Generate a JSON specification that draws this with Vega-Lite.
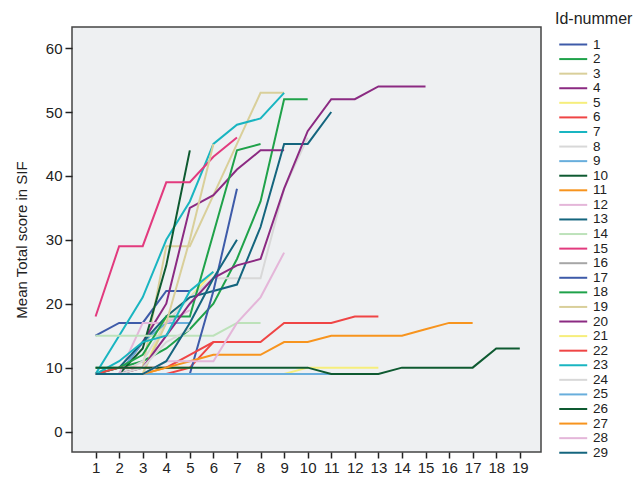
{
"$schema": "https://vega.github.io/schema/vega-lite/v6.json",
"width": 469, "height": 425,
"autosize": "none",
"padding": {"left": 72, "top": 27, "right": 97, "bottom": 32},
"background": "white",
"config": {
  "font": "Liberation Sans",
  "view": {"fill": "#EEF0F2", "stroke": "#444444", "strokeWidth": 1.5},
  "axis": {"grid": false, "domain": false, "tickColor": "#222222", "tickWidth": 1.5, "tickSize": 7, "labelColor": "#222222", "titleColor": "#222222", "labelFontSize": 15, "titleFontSize": 15, "titleFontWeight": "normal"}
},
"data": {"values": [
{"id":1,"t":1,"v":15},{"id":1,"t":2,"v":17},{"id":1,"t":3,"v":17},{"id":1,"t":4,"v":22},{"id":1,"t":5,"v":22},
{"id":2,"t":1,"v":10},{"id":2,"t":2,"v":10},{"id":2,"t":3,"v":11},{"id":2,"t":4,"v":13},{"id":2,"t":5,"v":16},{"id":2,"t":6,"v":20},{"id":2,"t":7,"v":27},{"id":2,"t":8,"v":36},{"id":2,"t":9,"v":52},{"id":2,"t":10,"v":52},
{"id":3,"t":1,"v":9},{"id":3,"t":2,"v":9},{"id":3,"t":3,"v":10},{"id":3,"t":4,"v":29},{"id":3,"t":5,"v":29},{"id":3,"t":6,"v":37},{"id":3,"t":7,"v":45},{"id":3,"t":8,"v":53},{"id":3,"t":9,"v":53},
{"id":4,"t":1,"v":9},{"id":4,"t":2,"v":9},{"id":4,"t":3,"v":14},{"id":4,"t":4,"v":20},{"id":4,"t":5,"v":35},{"id":4,"t":6,"v":37},{"id":4,"t":7,"v":41},{"id":4,"t":8,"v":44},{"id":4,"t":9,"v":44},
{"id":5,"t":1,"v":9},{"id":5,"t":2,"v":9},{"id":5,"t":3,"v":9},{"id":5,"t":4,"v":18},{"id":5,"t":5,"v":21},{"id":5,"t":6,"v":25},
{"id":6,"t":1,"v":9},{"id":6,"t":2,"v":9},{"id":6,"t":3,"v":9},{"id":6,"t":4,"v":9},{"id":6,"t":5,"v":10},{"id":6,"t":6,"v":14},
{"id":7,"t":1,"v":9},{"id":7,"t":2,"v":15},{"id":7,"t":3,"v":21},{"id":7,"t":4,"v":30},{"id":7,"t":5,"v":36},{"id":7,"t":6,"v":45},{"id":7,"t":7,"v":48},{"id":7,"t":8,"v":49},{"id":7,"t":9,"v":53},
{"id":8,"t":1,"v":9},{"id":8,"t":2,"v":9},{"id":8,"t":3,"v":11},{"id":8,"t":4,"v":17},{"id":8,"t":5,"v":21},{"id":8,"t":6,"v":24},{"id":8,"t":7,"v":24},{"id":8,"t":8,"v":24},{"id":8,"t":9,"v":38},{"id":8,"t":10,"v":46},
{"id":9,"t":1,"v":9},{"id":9,"t":2,"v":9},{"id":9,"t":3,"v":14},{"id":9,"t":4,"v":17},{"id":9,"t":5,"v":17},
{"id":10,"t":1,"v":9},{"id":10,"t":2,"v":9},{"id":10,"t":3,"v":13},{"id":10,"t":4,"v":26},{"id":10,"t":5,"v":44},
{"id":11,"t":1,"v":9},{"id":11,"t":2,"v":9},{"id":11,"t":3,"v":9},{"id":11,"t":4,"v":10},{"id":11,"t":5,"v":10},
{"id":12,"t":1,"v":9},{"id":12,"t":2,"v":9},{"id":12,"t":3,"v":17},{"id":12,"t":4,"v":17},{"id":12,"t":5,"v":19},
{"id":13,"t":1,"v":9},{"id":13,"t":2,"v":10},{"id":13,"t":3,"v":14},{"id":13,"t":4,"v":18},{"id":13,"t":5,"v":21},{"id":13,"t":6,"v":22},{"id":13,"t":7,"v":23},{"id":13,"t":8,"v":32},{"id":13,"t":9,"v":45},{"id":13,"t":10,"v":45},{"id":13,"t":11,"v":50},
{"id":14,"t":1,"v":15},{"id":14,"t":2,"v":15},{"id":14,"t":3,"v":15},{"id":14,"t":4,"v":15},{"id":14,"t":5,"v":15},{"id":14,"t":6,"v":15},{"id":14,"t":7,"v":17},{"id":14,"t":8,"v":17},
{"id":15,"t":1,"v":18},{"id":15,"t":2,"v":29},{"id":15,"t":3,"v":29},{"id":15,"t":4,"v":39},{"id":15,"t":5,"v":39},{"id":15,"t":6,"v":43},{"id":15,"t":7,"v":46},
{"id":16,"t":1,"v":9},{"id":16,"t":2,"v":9},{"id":16,"t":3,"v":9},
{"id":17,"t":1,"v":9},{"id":17,"t":2,"v":9},{"id":17,"t":3,"v":9},{"id":17,"t":4,"v":9},{"id":17,"t":5,"v":9},{"id":17,"t":6,"v":22},{"id":17,"t":7,"v":38},
{"id":18,"t":1,"v":9},{"id":18,"t":2,"v":10},{"id":18,"t":3,"v":12},{"id":18,"t":4,"v":18},{"id":18,"t":5,"v":18},{"id":18,"t":6,"v":31},{"id":18,"t":7,"v":44},{"id":18,"t":8,"v":45},
{"id":19,"t":1,"v":9},{"id":19,"t":2,"v":9},{"id":19,"t":3,"v":9},{"id":19,"t":4,"v":17},{"id":19,"t":5,"v":30},{"id":19,"t":6,"v":45},
{"id":20,"t":1,"v":9},{"id":20,"t":2,"v":9},{"id":20,"t":3,"v":10},{"id":20,"t":4,"v":15},{"id":20,"t":5,"v":20},{"id":20,"t":6,"v":24},{"id":20,"t":7,"v":26},{"id":20,"t":8,"v":27},{"id":20,"t":9,"v":38},{"id":20,"t":10,"v":47},{"id":20,"t":11,"v":52},{"id":20,"t":12,"v":52},{"id":20,"t":13,"v":54},{"id":20,"t":14,"v":54},{"id":20,"t":15,"v":54},
{"id":21,"t":1,"v":9},{"id":21,"t":2,"v":9},{"id":21,"t":3,"v":9},{"id":21,"t":4,"v":9},{"id":21,"t":5,"v":9},{"id":21,"t":6,"v":9},{"id":21,"t":7,"v":9},{"id":21,"t":8,"v":9},{"id":21,"t":9,"v":9},{"id":21,"t":10,"v":10},{"id":21,"t":11,"v":10},{"id":21,"t":12,"v":10},{"id":21,"t":13,"v":10},
{"id":22,"t":1,"v":9},{"id":22,"t":2,"v":10},{"id":22,"t":3,"v":10},{"id":22,"t":4,"v":10},{"id":22,"t":5,"v":12},{"id":22,"t":6,"v":14},{"id":22,"t":7,"v":14},{"id":22,"t":8,"v":14},{"id":22,"t":9,"v":17},{"id":22,"t":10,"v":17},{"id":22,"t":11,"v":17},{"id":22,"t":12,"v":18},{"id":22,"t":13,"v":18},
{"id":23,"t":1,"v":9},{"id":23,"t":2,"v":11},{"id":23,"t":3,"v":14},{"id":23,"t":4,"v":15},{"id":23,"t":5,"v":22},{"id":23,"t":6,"v":25},
{"id":24,"t":1,"v":9},{"id":24,"t":2,"v":9},{"id":24,"t":3,"v":10},{"id":24,"t":4,"v":14},{"id":24,"t":5,"v":16},
{"id":25,"t":1,"v":9},{"id":25,"t":2,"v":9},{"id":25,"t":3,"v":9},{"id":25,"t":4,"v":9},{"id":25,"t":5,"v":9},{"id":25,"t":6,"v":9},{"id":25,"t":7,"v":9},{"id":25,"t":8,"v":9},{"id":25,"t":9,"v":9},{"id":25,"t":10,"v":9},{"id":25,"t":11,"v":9},
{"id":26,"t":1,"v":10},{"id":26,"t":2,"v":10},{"id":26,"t":3,"v":10},{"id":26,"t":4,"v":10},{"id":26,"t":5,"v":10},{"id":26,"t":6,"v":10},{"id":26,"t":7,"v":10},{"id":26,"t":8,"v":10},{"id":26,"t":9,"v":10},{"id":26,"t":10,"v":10},{"id":26,"t":11,"v":9},{"id":26,"t":12,"v":9},{"id":26,"t":13,"v":9},{"id":26,"t":14,"v":10},{"id":26,"t":15,"v":10},{"id":26,"t":16,"v":10},{"id":26,"t":17,"v":10},{"id":26,"t":18,"v":13},{"id":26,"t":19,"v":13},
{"id":27,"t":1,"v":9},{"id":27,"t":2,"v":9},{"id":27,"t":3,"v":9},{"id":27,"t":4,"v":10},{"id":27,"t":5,"v":11},{"id":27,"t":6,"v":12},{"id":27,"t":7,"v":12},{"id":27,"t":8,"v":12},{"id":27,"t":9,"v":14},{"id":27,"t":10,"v":14},{"id":27,"t":11,"v":15},{"id":27,"t":12,"v":15},{"id":27,"t":13,"v":15},{"id":27,"t":14,"v":15},{"id":27,"t":15,"v":16},{"id":27,"t":16,"v":17},{"id":27,"t":17,"v":17},
{"id":28,"t":1,"v":9},{"id":28,"t":2,"v":9},{"id":28,"t":3,"v":9},{"id":28,"t":4,"v":11},{"id":28,"t":5,"v":11},{"id":28,"t":6,"v":11},{"id":28,"t":7,"v":17},{"id":28,"t":8,"v":21},{"id":28,"t":9,"v":28},
{"id":29,"t":1,"v":9},{"id":29,"t":2,"v":9},{"id":29,"t":3,"v":9},{"id":29,"t":4,"v":11},{"id":29,"t":5,"v":17},{"id":29,"t":6,"v":24},{"id":29,"t":7,"v":30}
]},
"mark": {"type": "line", "strokeWidth": 2},
"encoding": {
  "x": {"field": "t", "type": "quantitative",
        "scale": {"domain": [0, 19.9], "nice": false, "zero": false},
        "axis": {"values": [1,2,3,4,5,6,7,8,9,10,11,12,13,14,15,16,17,18,19], "title": null, "tickSize": 6, "labelPadding": 2, "labelFlush": false}},
  "y": {"field": "v", "type": "quantitative",
        "scale": {"domain": [-3.2, 63.3], "nice": false, "zero": false},
        "axis": {"values": [0,10,20,30,40,50,60], "title": "Mean Total score in SIF", "labelPadding": 3, "titlePadding": 16, "labelFlush": false}},
  "color": {"field": "id", "type": "ordinal",
        "scale": {"domain": [1,2,3,4,5,6,7,8,9,10,11,12,13,14,15,16,17,18,19,20,21,22,23,24,25,26,27,28,29],
                  "range": ["#3E5BA9","#1FA24A","#D9CF9A","#8B2A82","#F6EE7C","#EF4545","#19B5C1","#D8D8D8","#68AEDC","#0E5A31","#F7941E","#E4B6D9","#14657E","#BDE2BA","#E23A7E","#A6A6A6",
                            "#3E5BA9","#1FA24A","#D9CF9A","#8B2A82","#F6EE7C","#EF4545","#19B5C1","#D8D8D8","#68AEDC","#0E5A31","#F7941E","#E4B6D9","#14657E"]},
        "legend": {"title": "Id-nummer", "orient": "none", "legendX": 483, "legendY": -16, "padding": 0,
                   "symbolType": "M-0.5,0H3.8", "symbolSize": 169, "symbolStrokeWidth": 2,
                   "labelFontSize": 13.5, "labelColor": "#222222", "labelOffset": 23,
                   "titleFontSize": 16, "titleFontWeight": "normal", "titleColor": "#222222", "titlePadding": 10,
                   "rowPadding": 0.58}}
}
}
